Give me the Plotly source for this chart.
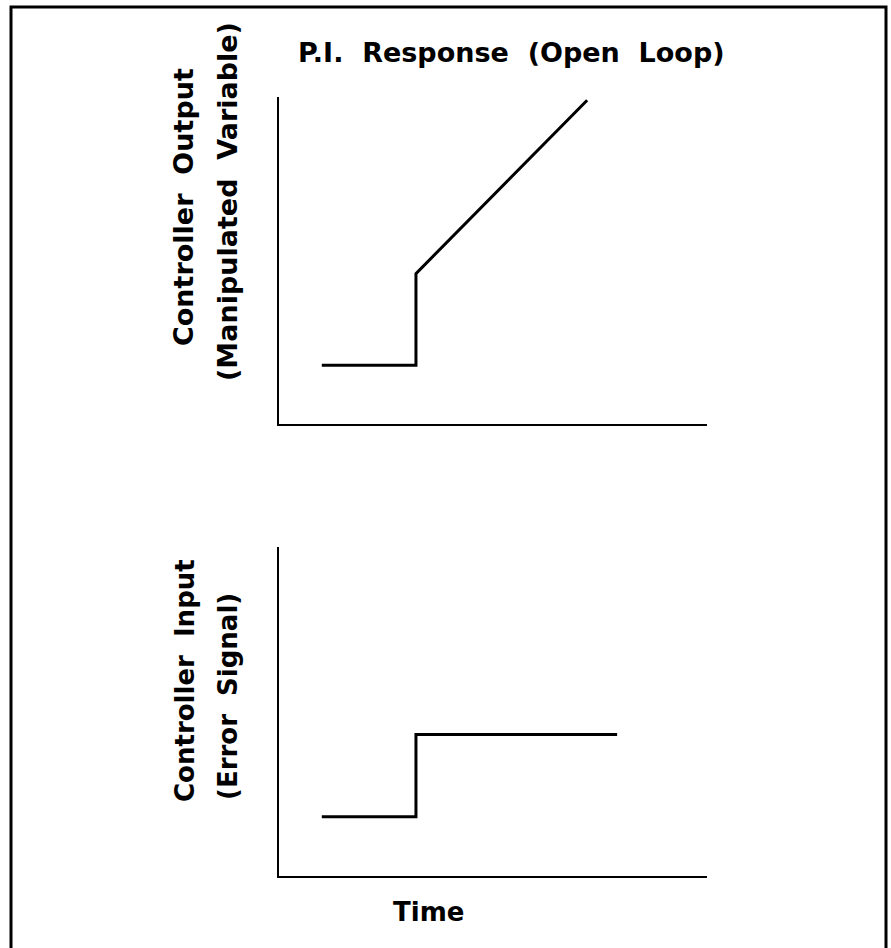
import plotly.graph_objects as go

# ---- data ----
time_output = [1.0, 3.2, 3.2, 7.2]
controller_output = [1.8, 1.8, 4.6, 9.9]

time_input = [1.0, 3.2, 3.2, 7.9]
error_signal = [1.8, 1.8, 4.3, 4.3]

title_text = "P.I.\u00a0\u00a0Response\u00a0\u00a0(Open\u00a0\u00a0Loop)"
top_label_1 = "Controller\u00a0\u00a0Output"
top_label_2 = "(Manipulated\u00a0\u00a0Variable)"
bot_label_1 = "Controller\u00a0\u00a0Input"
bot_label_2 = "(Error\u00a0\u00a0Signal)"
x_label = "Time"

W, H = 891, 948
FONT = "DejaVu Sans"


def px(x):
    return x / W


def py(y):
    return 1 - y / H


fig = go.Figure()
fig.add_trace(go.Scatter(x=time_output, y=controller_output, mode="lines",
                         line=dict(color="black", width=3), xaxis="x", yaxis="y",
                         showlegend=False, hoverinfo="skip"))
fig.add_trace(go.Scatter(x=time_input, y=error_signal, mode="lines",
                         line=dict(color="black", width=3), xaxis="x2", yaxis="y2",
                         showlegend=False, hoverinfo="skip"))

axis_common = dict(showgrid=False, zeroline=False, showticklabels=False, ticks="",
                   showline=True, linecolor="black", linewidth=2, fixedrange=True)

fig.update_layout(
    width=W, height=H,
    margin=dict(l=0, r=0, t=0, b=0),
    paper_bgcolor="white", plot_bgcolor="white",
    xaxis=dict(domain=[px(279), px(707)], range=[0, 10], anchor="y", **axis_common),
    yaxis=dict(domain=[py(424), py(97)], range=[0, 10], anchor="x", **axis_common),
    xaxis2=dict(domain=[px(279), px(707)], range=[0, 10], anchor="y2", **axis_common),
    yaxis2=dict(domain=[py(876), py(547)], range=[0, 10], anchor="x2", **axis_common),
    shapes=[dict(type="rect", xref="paper", yref="paper",
                 x0=px(11), x1=px(886), y0=py(955), y1=py(7),
                 line=dict(color="black", width=3), fillcolor="rgba(0,0,0,0)")],
)


def ann(text, x, y, size, angle=0):
    fig.add_annotation(text=text, xref="paper", yref="paper", x=px(x), y=py(y),
                       xanchor="center", yanchor="middle", showarrow=False,
                       textangle=angle,
                       font=dict(family=FONT, size=size, color="black", weight="bold"))


ann(title_text, 511, 52, 27)
ann(top_label_1, 183, 207, 27, -90)
ann(top_label_2, 228, 202, 27, -90)
ann(bot_label_1, 185, 681, 26, -90)
ann(bot_label_2, 228, 697, 26, -90)
ann(x_label, 428, 912, 26)

fig.write_html(
    "out.html",
    config={"displayModeBar": False},
    post_script="document.body.style.margin='0';document.body.style.overflow='hidden';",
)
